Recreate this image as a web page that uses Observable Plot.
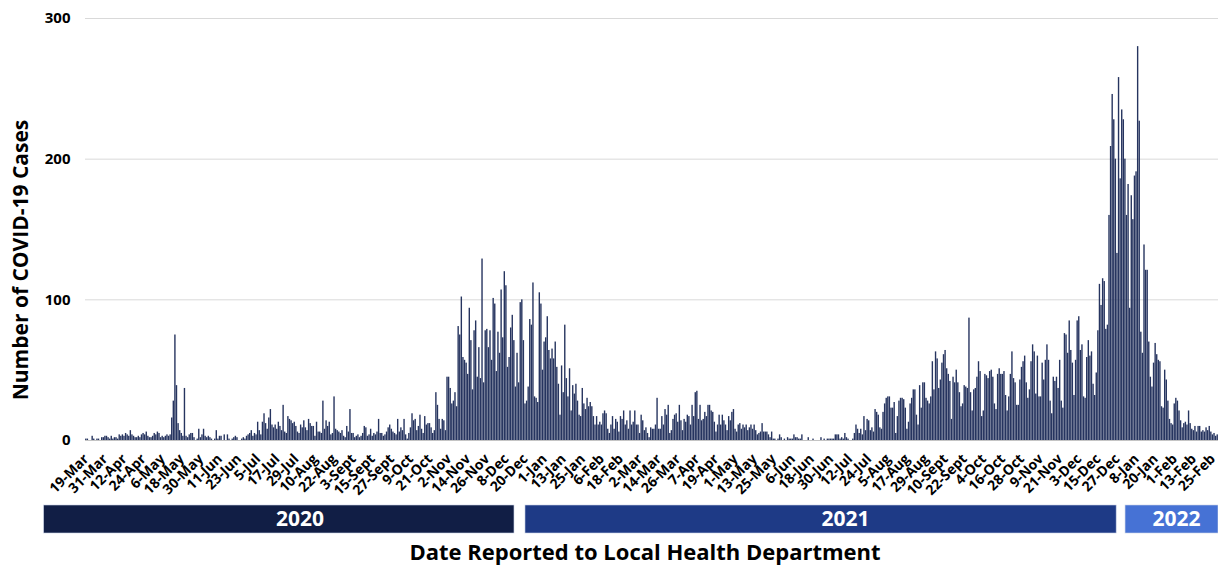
<!DOCTYPE html>
<html>
<head>
<meta charset="utf-8">
<script src="https://cdn.jsdelivr.net/npm/d3@7"></script>
<script src="https://cdn.jsdelivr.net/npm/@observablehq/plot@0.6"></script>
<style>
  html, body { margin: 0; padding: 0; background: #fff; }
  #wrap { position: relative; width: 1218px; height: 567px; overflow: hidden; font-family: "Open Sans", sans-serif; }
  #ylabel { position: absolute; left: 20px; top: 260px; transform: translate(-50%, -50%) rotate(-90deg);
            white-space: nowrap; font-weight: 700; font-size: 21px; color: #000; }
  #xtitle { position: absolute; left: 295px; width: 700px; top: 536px; text-align: center;
            white-space: nowrap; font-weight: 700; font-size: 22px; color: #000; }
  svg { display: block; }
</style>
</head>
<body>
<div id="wrap">
  <div id="main"></div>
  <div id="bands"></div>
  <div id="ylabel"></div>
  <div id="xtitle"></div>
</div>
<script>
// ---------- data ----------
const startDate = "2020-03-19";
const yAxisTitle = "Number of COVID-19 Cases";
const xAxisTitle = "Date Reported to Local Health Department";

// daily cases, 19-Mar-2020 .. 31-Dec-2020
const cases2020 = [
  1,1,0,0,3,1,0,1,1,0,2,2, 3,3,2,1,3,1,2,2,1,4,3,4, 3,5,4,3,7,4,3,2,2,3,2,4,
  5,4,6,3,2,2,3,5,4,6,5,2, 3,2,3,4,3,4,16,28,75,39,12,7, 5,3,
  37,3,2,4,5,5,2,0,1,8, 2,4,8,3,2,3,2,1,0,1, 7,1,3,3,0,4,0,4,1,0, 1,2,3,2,0,0,1,2,1,3,
  4,5,7,3,5,4,13,7,4,13, 19,12,8,16,22,11,9,11,8,13, 10,7,25,6,5,17,15,14,12,13,
  10,6,5,11,9,14,9,7,15,12, 10,10,3,13,6,6,5,28,8,14, 10,13,4,5,31,8,7,6,5,7,
  3,2,10,6,22,5,5,2,3,4, 2,3,5,10,9,3,4,8,3,5, 4,6,15,5,5,3,4,6,9,
  11,8,6,5,4,15,6,9,7,15, 4,1,5,9,19,14,15,7,10,18, 8,5,17,11,12,12,9,5,7,34,
  25,15,8,15,14,7,45,45,37,26, 28,34,24,81,75,102,59,57,55,47, 94,71,36,78,85,45,66,44,129,41,
  78,79,66,
  78,57,101,97,49,77,62,107,73,120, 110,52,59,80,89,71,38,62,41,98, 100,71,26,28,38,86,82,112,31,30,
  27,105,97,50
];
// daily cases, 1-Jan-2021 .. 31-Dec-2021
const cases2021 = [
  70,73,88,64,58,65, 58,70,52,40,18,53,34,82,44,31, 51,21,39,33,40,28,18,17,37,26, 22,30,24,
  27,24,17,11,17,11,13,11,19,21, 19,8,5,11,17,8,15,13,6,17, 15,21,11,14,8,21,11,13,21,11,
  11,5,18,14,7,9,5,2,9,8, 8,11,30,8,8,17,11,22,18,25, 5,7,15,18,19,13,25,14,7,15,
  13,18,17,11,25,17,34,35,15,25, 14,15,20,17,25,25,21,20,13,6, 11,18,11,18,14,11,7,17,14,20,
  22,8,6,11,12,8,11,9,11,7, 9,11,8,11,7,4,5,6,12,6, 6,6,4,2,6,1,1,0,1,4, 2,0,1,0,2,1,
  1,1,4,2,2,1,1,4,0,0, 0,2,0,0,1,0,0,0,0,2, 0,1,0,1,1,1,1,1,4,4, 4,1,2,1,5,2,1,0,0,1,
  5,11,8,5,8,4,17,7,15,14, 7,9,6,22,20,18,9,8,20,26, 30,31,
  31,23,23,27,5,17,28,30,30,29, 23,8,13,26,30,36,36,18,11,39, 23,41,41,30,28,26,31,56,36,63,
  58,37,43,55,61,64,51,47,42,15, 45,41,50,41,34,24,26,39,38,37, 87,34,21,36,37,45,56,49,17,21,
  47,46,44,
  49,50,45,26,22,47,51,47,47,49, 32,21,31,47,63,44,41,25,25,43, 52,56,60,41,30,36,56,68,63,33,
  60,31,31,55,43,57,68,57,28,19, 45,42,45,37,57,28,23,76,75,62, 85,64,55,32,57,85,88,64,68,31,
  30,59,71,
  60,63,40,32,48,78,111,96,115,113, 79,82,160,209,246,228,200,133,258,186, 235,228
];
// daily cases, 1-Jan-2022 .. 28-Feb-2022
const cases2022 = [
  200,160,182,94,174,157,188,191, 280,227,77,62,139,121,121,
  70,45,38,55,69,61,57,56,24,23, 50,43,28,15,12,11,26,30,28,21,
  14,9,12,13,11,21,12,8,7,10, 6,10,10,6,7,6,9,7,10,6, 4,5,3,4
];

// x tick labels, one every 12 days
const tickLabels = [
  "19-Mar","31-Mar","12-Apr","24-Apr","6-May","18-May","30-May","11-Jun","23-Jun","5-Jul",
  "17-Jul","29-Jul","10-Aug","22-Aug","3-Sept","15-Sept","27-Sept","9-Oct","21-Oct","2-Nov",
  "14-Nov","26-Nov","8-Dec","20-Dec","1-Jan","13-Jan","25-Jan","6-Feb","18-Feb","2-Mar",
  "14-Mar","26-Mar","7-Apr","19-Apr","1-May","13-May","25-May","6-Jun","18-Jun","30-Jun",
  "12-Jul","24-Jul","5-Aug","17-Aug","29-Aug","10-Sept","22-Sept","4-Oct","16-Oct","28-Oct",
  "9-Nov","21-Nov","3-Dec","15-Dec","27-Dec","8-Jan","20-Jan","1-Feb","13-Feb","25-Feb"
];
const yTicks = [0, 100, 200, 300];

// year banner below the axis
const years = ["2020", "2021", "2022"];
const yearStart = ["2020-02-22T00:00Z", "2020-12-20T12:00Z", "2022-01-01T14:00Z"];
const yearEnd = ["2020-12-13T14:00Z", "2021-12-27T00:00Z", "2022-03-01T00:00Z"];
const yearLabelAt = ["2020-07-31T19:00Z", "2021-07-09T14:00Z", "2022-02-02T14:00Z"];
const yearColors = ["#111e45", "#1e3a86", "#4672d5"];

// ---------- build ----------
const allCases = [...cases2020, ...cases2021, ...cases2022];
const start = new Date(startDate + "T00:00Z");
const data = allCases.map((v, i) => ({ date: d3.utcDay.offset(start, i), value: v }));
const end = d3.utcDay.offset(start, allCases.length);
const tickDates = tickLabels.map((_, k) => d3.utcHour.offset(data[12 * k].date, 12));
const labelMap = new Map(tickDates.map((d, k) => [+d, tickLabels[k]]));

const W = 1218, ML = 85, MR = 0;
const xScale = { type: "utc", domain: [start, end] };
const font = '"Open Sans", sans-serif';

const main = Plot.plot({
  width: W, height: 503,
  marginTop: 18, marginBottom: 63, marginLeft: ML, marginRight: MR,
  style: { fontFamily: font, fontSize: "14px", fontWeight: "bold", color: "#000", background: "transparent", overflow: "visible" },
  x: xScale,
  y: { domain: [0, 300] },
  marks: [
    Plot.gridY([100, 200, 300], { stroke: "#d9d9d9", strokeOpacity: 1 }),
    Plot.ruleY([0], { stroke: "#c4c4c4" }),
    Plot.rectY(data, { x: "date", y: "value", interval: "day", fill: "#26345f", insetLeft: 0.1, insetRight: 0.1 }),
    Plot.axisY(yTicks, { tickSize: 0, tickPadding: 15, label: null, fontSize: 15, fontWeight: "bold", fill: "#000" }),
    Plot.axisX(tickDates, { tickFormat: d => labelMap.get(+d), tickRotate: -45, tickSize: 0, tickPadding: 16,
      dx: 0, label: null, fontSize: 14, fontWeight: "bold", fill: "#000" })
  ]
});
document.getElementById("main").appendChild(main);

const bandData = years.map((y, i) => ({
  year: y, x1: new Date(yearStart[i]), x2: new Date(yearEnd[i]), mid: new Date(yearLabelAt[i]), color: yearColors[i]
}));
const bands = Plot.plot({
  width: W, height: 30,
  marginTop: 2, marginBottom: 0, marginLeft: ML, marginRight: MR,
  style: { fontFamily: font, background: "transparent", overflow: "visible" },
  x: { ...xScale, axis: null },
  marks: [
    Plot.rect(bandData, { x1: "x1", x2: "x2", fill: "color", stroke: "#c9d2e6", strokeWidth: 0.6 }),
    Plot.text(bandData, { x: "mid", text: "year", frameAnchor: "middle", fill: "#fff", fontSize: 21, fontWeight: "bold" })
  ]
});
document.getElementById("bands").appendChild(bands);

document.getElementById("ylabel").textContent = yAxisTitle;
document.getElementById("xtitle").textContent = xAxisTitle;
</script>
</body>
</html>
